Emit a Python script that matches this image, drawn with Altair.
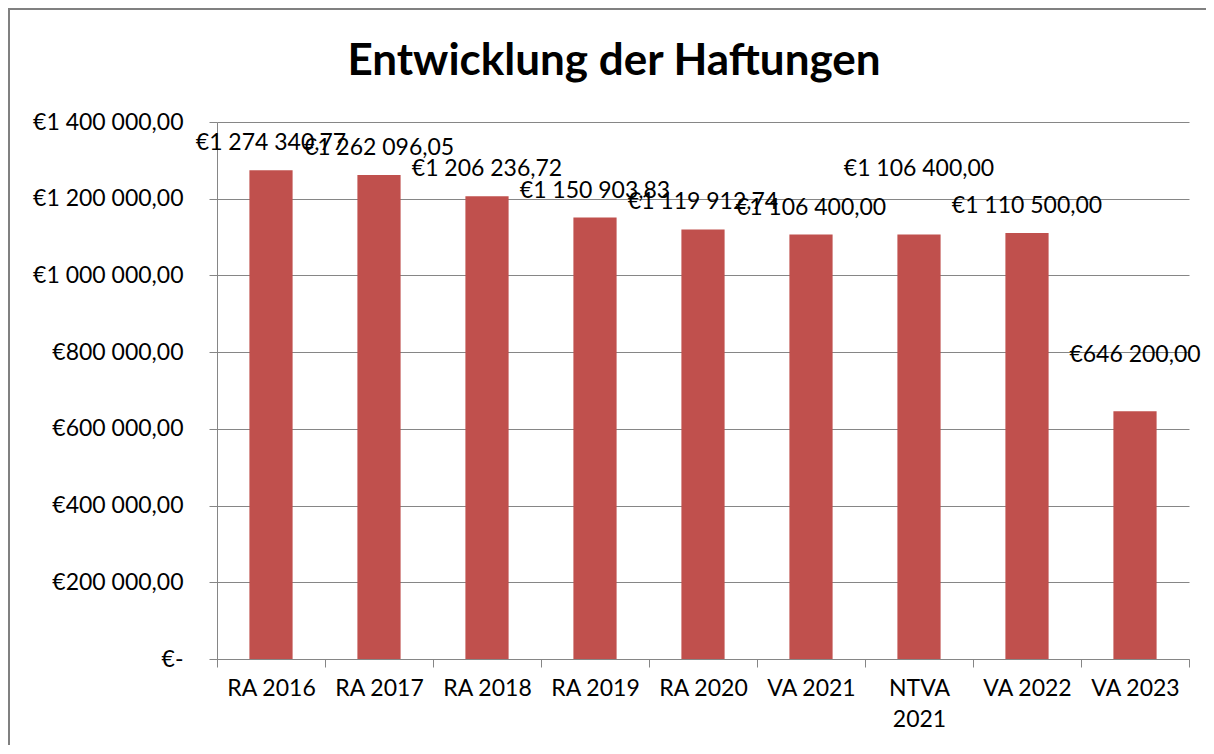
import altair as alt
import pandas as pd

categories = ["RA 2016", "RA 2017", "RA 2018", "RA 2019", "RA 2020",
              "VA 2021", "NTVA 2021", "VA 2022", "VA 2023"]
values = [1274340.77, 1262096.05, 1206236.72, 1150903.83, 1119912.74,
          1106400.00, 1106400.00, 1110500.00, 646200.00]
# vertical shift of each data label above its bar (px), as placed in the original
label_shift = [-27, -27, -27, -27, -27, -27, -66, -27, -56]
title_text = "Entwicklung der Haftungen"

df = pd.DataFrame({"cat": categories, "value": values, "shift": label_shift})

FONT = "Lato"
GRAY = "#868686"
BAR = "#C0504D"
W, H = 972, 537
FS = 23

x_enc = alt.X("cat:N", sort=categories, title=None,
              scale=alt.Scale(paddingInner=0, paddingOuter=0),
              axis=alt.Axis(labelAngle=0, tickBand="extent", tickSize=8,
                            labelPadding=10, labelLineHeight=31,
                            labelExpr="datum.label == 'NTVA 2021' ? ['NTVA', '2021'] : datum.label"))
y_enc = alt.Y("value:Q", title=None,
              scale=alt.Scale(domain=[0, 1400000], nice=False),
              axis=alt.Axis(values=[0, 200000, 400000, 600000, 800000, 1000000, 1200000, 1400000],
                            tickSize=8, labelPadding=26, grid=True,
                            labelExpr="datum.value == 0 ? '€-\u00a0\u00a0' : format(datum.value, '$,.2f')"))

frame = alt.Chart(df).mark_rect(fill=None, stroke="#808080", strokeWidth=2).encode(
    x=alt.value(-208), x2=alt.value(W + 40),
    y=alt.value(-113), y2=alt.value(H + 120),
)

bars = alt.Chart(df).mark_bar(color=BAR, width=alt.RelativeBandSize(0.4)).encode(x=x_enc, y=y_enc)

label_layers = []
for s in sorted(set(label_shift)):
    label_layers.append(
        alt.Chart(df).transform_filter(alt.datum.shift == s)
        .mark_text(font=FONT, fontSize=FS, color="black", baseline="middle", dy=s)
        .encode(
            x=alt.X("cat:N", sort=categories),
            y=alt.Y("value:Q"),
            text=alt.Text("value:Q", format="$,.2f"),
        )
    )

title = alt.Chart(pd.DataFrame({"t": [title_text]})).mark_text(
    font=FONT, fontSize=44, fontWeight="bold", color="black",
    align="center", baseline="alphabetic",
).encode(text="t:N", x=alt.value(397), y=alt.value(-47))

chart = alt.layer(frame, bars, *label_layers, title).properties(
    width=W, height=H,
    autosize=alt.AutoSizeParams(type="none"),
    padding={"left": 209, "top": 114, "right": 17, "bottom": 86},
).configure(
    locale=alt.Locale(number=alt.NumberLocale(decimal=",", thousands=" ",
                                              grouping=[3], currency=["€", ""])),
).configure_view(stroke=None).configure_axis(
    labelFont=FONT, labelFontSize=FS, labelColor="black",
    domainColor=GRAY, tickColor=GRAY, gridColor=GRAY,
    domainWidth=1, tickWidth=1, gridWidth=1,
).configure_axisX(grid=False)

chart.save("out.html", embed_options={"renderer": "svg", "actions": False})
